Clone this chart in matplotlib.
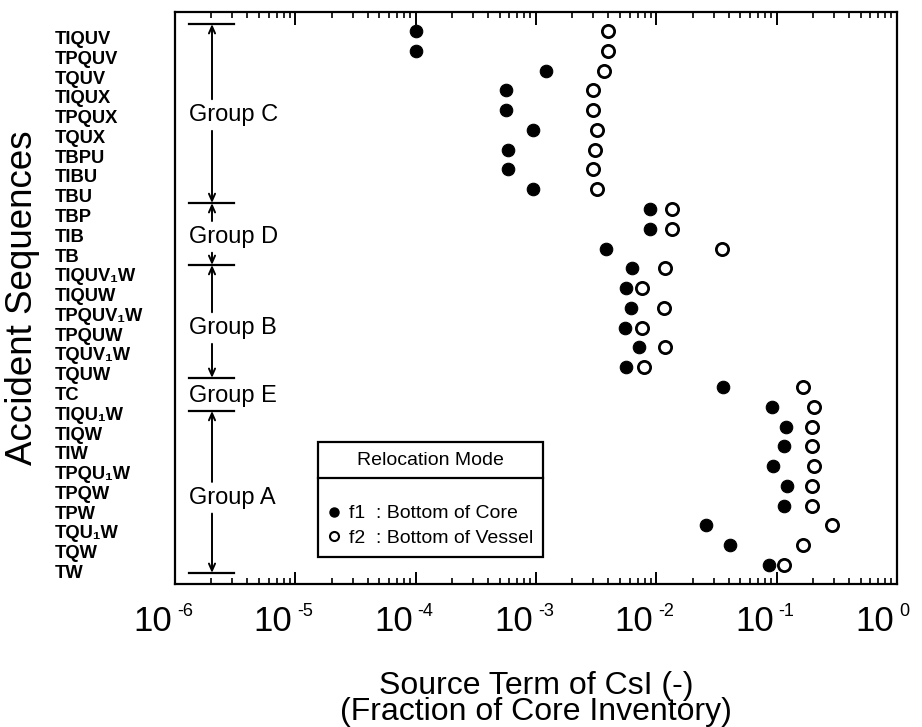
import matplotlib
matplotlib.use("Agg")
import matplotlib.pyplot as plt
import matplotlib.transforms as mtransforms
from matplotlib.lines import Line2D
import numpy as np

plt.rcParams['font.family'] = ['Liberation Sans', 'DejaVu Sans']

# ---------------- data ----------------
sequences = ["TIQUV", "TPQUV", "TQUV", "TIQUX", "TPQUX", "TQUX", "TBPU", "TIBU", "TBU",
             "TBP", "TIB", "TB",
             "TIQUV₁W", "TIQUW", "TPQUV₁W", "TPQUW", "TQUV₁W", "TQUW",
             "TC",
             "TIQU₁W", "TIQW", "TIW", "TPQU₁W", "TPQW", "TPW", "TQU₁W", "TQW", "TW"]

# f1 : relocation to bottom of core (filled)
f1_core = [1.0e-4, 1.0e-4, 1.2e-3, 5.6e-4, 5.6e-4, 9.5e-4, 5.8e-4, 5.8e-4, 9.5e-4,
           8.9e-3, 8.9e-3, 3.8e-3,
           6.3e-3, 5.6e-3, 6.2e-3, 5.5e-3, 7.2e-3, 5.6e-3,
           3.6e-2,
           0.091, 0.120, 0.115, 0.093, 0.123, 0.115, 0.0257, 0.0407, 0.087]

# f2 : relocation to bottom of vessel (open)
f2_vessel = [4.0e-3, 4.0e-3, 3.7e-3, 3.0e-3, 3.0e-3, 3.2e-3, 3.1e-3, 3.0e-3, 3.2e-3,
             1.35e-2, 1.35e-2, 3.5e-2,
             1.17e-2, 7.6e-3, 1.15e-2, 7.6e-3, 1.17e-2, 7.9e-3,
             0.166,
             0.204, 0.195, 0.195, 0.204, 0.195, 0.195, 0.288, 0.166, 0.115]

# group annotations: (name, top boundary, bottom boundary, label position) in row units
group_names = ["Group C", "Group D", "Group B", "Group E", "Group A"]
group_top = [-0.35, 8.70, 11.83, 17.54, 19.21]
group_bottom = [8.70, 11.83, 17.54, 19.21, 27.40]
group_label_pos = [4.25, 10.41, 15.02, 18.47, 23.6]
group_arrows = [True, True, True, False, True]

decades = [-6, -5, -4, -3, -2, -1, 0]
tick_base = "10"
tick_exponents = ["-6", "-5", "-4", "-3", "-2", "-1", "0"]

# ---------------- figure ----------------
W, H = 922, 727
fig = plt.figure(figsize=(W / 100, H / 100), dpi=100)
ax = fig.add_axes([175 / W, 1 - 584 / H, (897 - 175) / W, (584 - 12) / H])

rows = np.arange(len(sequences))
ax.plot(f1_core, rows, linestyle='none', marker='o', markersize=9.0,
        markerfacecolor='black', markeredgecolor='black', markeredgewidth=0.8)
ax.plot(f2_vessel, rows, linestyle='none', marker='o', markersize=8.8,
        markerfacecolor='white', markeredgecolor='black', markeredgewidth=2.0)

ax.set_xscale('log')
ax.set_xlim(1e-6, 1e0)
ax.set_ylim(27.96, -0.96)

for s in ax.spines.values():
    s.set_linewidth(1.6)

ax.set_xticks([10.0 ** d for d in decades])
ax.set_xticklabels([tick_base] * len(decades), fontsize=25)
ax.xaxis.set_minor_locator(matplotlib.ticker.LogLocator(base=10, subs=np.arange(2, 10)))
ax.xaxis.set_minor_formatter(matplotlib.ticker.NullFormatter())
ax.tick_params(axis='x', which='major', direction='in', length=9, width=1.4,
               top=True, bottom=True, pad=15)
ax.tick_params(axis='x', which='minor', direction='in', length=4.5, width=1.2,
               top=True, bottom=True)
offset = mtransforms.ScaledTranslation(-3 / 100, 0, fig.dpi_scale_trans)
for lab in ax.get_xticklabels():
    lab.set_horizontalalignment('right')
    lab.set_transform(lab.get_transform() + offset)

# exponents of the x tick labels
xt = mtransforms.blended_transform_factory(ax.transData, ax.transAxes)
exp_off = mtransforms.ScaledTranslation(2 / 100, -19 / 100, fig.dpi_scale_trans)
for d, e in zip(decades, tick_exponents):
    ax.text(10.0 ** d, 0, e, transform=xt + exp_off, fontsize=13,
            ha='left', va='top', clip_on=False)

ax.set_yticks(rows)
ax.set_yticklabels(sequences, fontsize=13.2, fontweight='bold')
ax.tick_params(axis='y', which='both', length=0, pad=(175 - 55) * 0.72)
for lab in ax.get_yticklabels():
    lab.set_horizontalalignment('left')
    lab.set_verticalalignment('top')

ax.set_xlabel("Source Term of CsI (-)\n(Fraction of Core Inventory)", fontsize=23,
              labelpad=24, linespacing=0.82)
ax.set_ylabel("Accident Sequences", fontsize=26.5, labelpad=0)
ax.yaxis.set_label_coords(-(175 - 40) / (897 - 175), 0.5)

# group brackets
bt = mtransforms.blended_transform_factory(ax.transAxes, ax.transData)
x_bar0, x_bar1, x_mid = (189 - 175) / 722, (234 - 175) / 722, (212 - 175) / 722
drawn = set()
for name, top, bot, lp, arr in zip(group_names, group_top, group_bottom,
                                   group_label_pos, group_arrows):
    for yb in (top, bot):
        if yb not in drawn:
            ax.plot([x_bar0, x_bar1], [yb, yb], color='black', lw=1.6,
                    transform=bt, clip_on=False)
            drawn.add(yb)
    ax.text(x_bar0, lp, name, transform=bt, fontsize=17, ha='left', va='center')
    if arr:
        gap = 0.8
        for start, end in ((lp - gap, top), (lp + gap, bot)):
            ax.annotate('', xy=(x_mid, end), xytext=(x_mid, start),
                        xycoords=bt, textcoords=bt,
                        arrowprops=dict(arrowstyle='->,head_length=0.5,head_width=0.22',
                                        color='black', lw=1.4, shrinkA=0, shrinkB=0))

# legend
handles = [Line2D([], [], linestyle='none', marker='o', markersize=6.5,
                  markerfacecolor='black', markeredgecolor='black'),
           Line2D([], [], linestyle='none', marker='o', markersize=6.5,
                  markerfacecolor='white', markeredgecolor='black', markeredgewidth=1.5)]
leg = ax.legend(handles, ["f1  : Bottom of Core", "f2  : Bottom of Vessel"],
                title="Relocation Mode", loc='upper left',
                bbox_to_anchor=((318 - 175) / 722, 1 - (442 - 12) / 572),
                borderaxespad=0, fancybox=False, edgecolor='black', framealpha=1,
                fontsize=14, title_fontsize=14, handlelength=0.6, handletextpad=0.5,
                borderpad=0.5, labelspacing=0.35)
leg.get_frame().set_linewidth(1.6)
leg._legend_box.sep = 26

fig.canvas.draw()
lb = leg.get_window_extent()
tb = leg.get_title().get_window_extent()
ysep = tb.y0 - 9
fig.add_artist(Line2D([lb.x0 / W, lb.x1 / W], [ysep / H, ysep / H],
                      transform=fig.transFigure, color='black', lw=1.6))

fig.savefig("out.png", dpi=100)
